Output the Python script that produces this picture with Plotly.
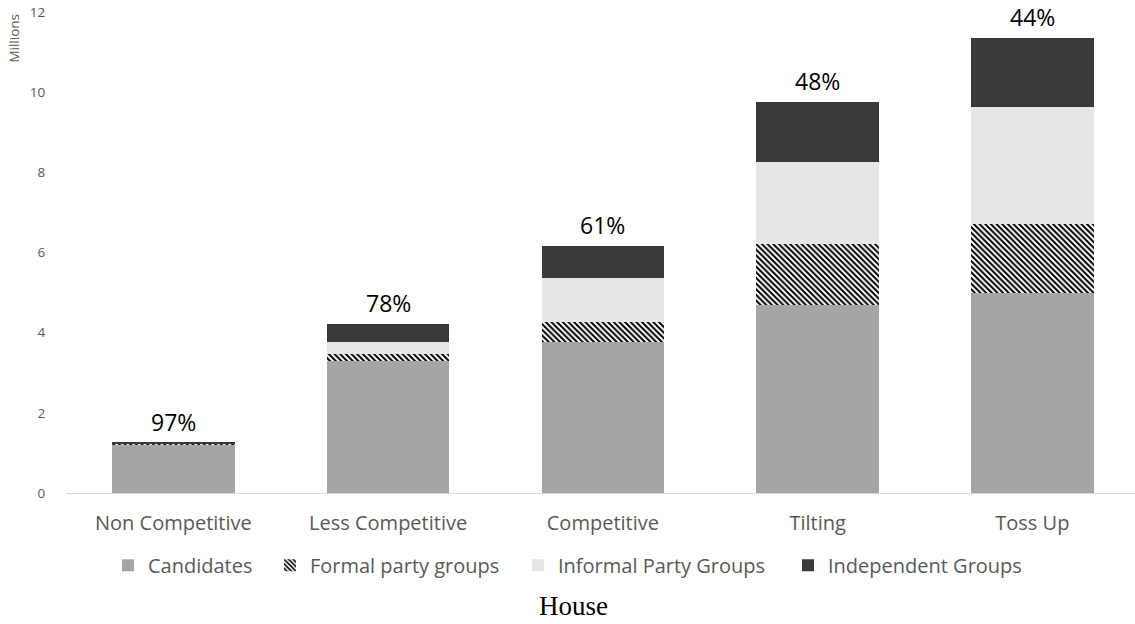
import plotly.graph_objects as go

categories = ["Non Competitive", "Less Competitive", "Competitive", "Tilting", "Toss Up"]
candidates = [1.22, 3.29, 3.77, 4.69, 4.98]
formal_party = [0.01, 0.19, 0.50, 1.51, 1.73]
informal_party = [0.01, 0.29, 1.10, 2.07, 2.93]
independent = [0.02, 0.44, 0.80, 1.48, 1.70]
pct_labels = ["97%", "78%", "61%", "48%", "44%"]
y_ticks = [0, 2, 4, 6, 8, 10, 12]

FONT = "Open Sans"
fig = go.Figure()
fig.add_trace(go.Bar(name="Candidates", x=categories, y=candidates, legend="legend",
                     marker=dict(color="#a5a5a5", line=dict(width=0))))
fig.add_trace(go.Bar(name="Formal party groups", x=categories, y=formal_party, legend="legend2",
                     marker=dict(color="white", line=dict(width=0),
                                 pattern=dict(shape="\\", fgcolor="black", bgcolor="white",
                                              size=4, solidity=0.5, fillmode="replace"))))
fig.add_trace(go.Bar(name="Informal Party Groups", x=categories, y=informal_party, legend="legend3",
                     marker=dict(color="#e7e6e6", line=dict(width=0))))
fig.add_trace(go.Bar(name="Independent Groups", x=categories, y=independent, legend="legend4",
                     marker=dict(color="#3b3838", line=dict(width=0))))

totals = [a + b + c + d for a, b, c, d in zip(candidates, formal_party, informal_party, independent)]
for cat, tot, lab in zip(categories, totals, pct_labels):
    fig.add_annotation(x=cat, y=tot, text=lab, showarrow=False, yanchor="bottom", yshift=3,
                       font=dict(family=FONT, size=23, color="black"))

fig.add_annotation(xref="paper", yref="paper", x=0.475, y=-0.235, yanchor="middle",
                   text="House", showarrow=False,
                   font=dict(family="Liberation Serif", size=27, color="black"))
fig.add_annotation(xref="paper", yref="paper", x=-0.0495, y=1.0, xanchor="center", yanchor="top",
                   text="Millions", textangle=-90, showarrow=False,
                   font=dict(family=FONT, size=13.5, color="#595959"))

leg_font = dict(family=FONT, size=20, color="#595959")
def leg(x):
    return dict(orientation="h", x=x, xanchor="left", y=-0.15, yanchor="middle",
                font=leg_font, itemwidth=30, bgcolor="rgba(0,0,0,0)")

fig.update_layout(
    barmode="stack", bargap=0.43,
    width=1135, height=624,
    margin=dict(l=66, r=0, t=12, b=131),
    plot_bgcolor="white", paper_bgcolor="white",
    font=dict(family=FONT, color="#595959"),
    legend=leg(0.0393), legend2=leg(0.1908), legend3=leg(0.4228), legend4=leg(0.6754),
    showlegend=True,
)
fig.update_xaxes(range=[-0.5, 4.478], showgrid=False, showline=True, linecolor="#d9d9d9", linewidth=1,
                 ticks="outside", ticklen=12, tickcolor="rgba(0,0,0,0)",
                 tickfont=dict(family=FONT, size=20, color="#595959"))
fig.update_yaxes(range=[0, 12], tickvals=y_ticks, showgrid=False, zeroline=False, showline=False,
                 ticks="outside", ticklen=17, tickcolor="rgba(0,0,0,0)",
                 tickfont=dict(family=FONT, size=13.5, color="#595959"))

fig.write_html("out.html")
